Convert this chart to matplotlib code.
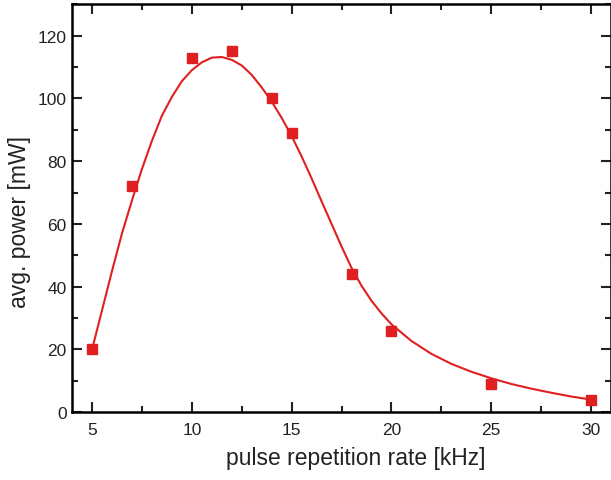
import numpy as np
import matplotlib.pyplot as plt
from matplotlib.ticker import MultipleLocator

plt.rcParams['font.family'] = ['Liberation Sans', 'DejaVu Sans']

# measured points
rate = [5, 7, 10, 12, 14, 15, 18, 20, 25, 30]
power = [20, 72, 113, 115, 100, 89, 44, 26, 9, 4]

# fit curve
fit_rate = [5, 5.5, 6, 6.5, 7, 7.5, 8, 8.5, 9, 9.5, 10, 10.5, 11, 11.5, 12,
            12.5, 13, 13.5, 14, 14.5, 15, 15.5, 16, 16.5, 17, 17.5, 18, 18.5,
            19, 19.5, 20, 21, 22, 23, 24, 25, 26, 27, 28, 29, 30]
fit_power = [20, 32.5, 45, 57, 67.5, 77.5, 86.5, 94.5, 100.5, 105.5, 109,
             111.5, 113, 113.2, 112.3, 110.5, 107.5, 103.5, 99, 93.8, 88,
             81.5, 74.5, 67.2, 60, 52.8, 46, 40.3, 35.5, 31.5, 28, 22.7, 18.6,
             15.4, 12.9, 10.8, 9, 7.5, 6.2, 5, 4]

red = '#e02020'

fig = plt.figure(figsize=(6.11, 4.81), dpi=100)
ax = fig.add_axes([0.118, 0.141, 0.882, 0.848])

ax.plot(fit_rate, fit_power, color=red, lw=1.5, zorder=2)
ax.plot(rate, power, 's', color=red, ms=7, zorder=3)

ax.set_xlim(4, 31)
ax.set_ylim(0, 130)
ax.xaxis.set_major_locator(MultipleLocator(5))
ax.xaxis.set_minor_locator(MultipleLocator(2.5))
ax.yaxis.set_major_locator(MultipleLocator(20))
ax.yaxis.set_minor_locator(MultipleLocator(10))
ax.tick_params(which='both', direction='in', top=True, right=True,
               width=1.5, labelsize=12.5, colors='#222222')
ax.tick_params(which='major', length=7)
ax.tick_params(which='minor', length=4)
ax.tick_params(axis='x', which='major', pad=7)
ax.tick_params(axis='y', which='major', pad=4)
for s in ax.spines.values():
    s.set_linewidth(1.8)

ax.set_xlabel('pulse repetition rate [kHz]', fontsize=16.5, color='#222222')
ax.set_ylabel('avg. power [mW]', fontsize=16.5, color='#222222')
# labels sit a little off-centre in the original
ax.xaxis.set_label_coords(0.526, -0.084)
ax.yaxis.set_label_coords(-0.077, 0.468)

fig.savefig('out.png', dpi=100)
